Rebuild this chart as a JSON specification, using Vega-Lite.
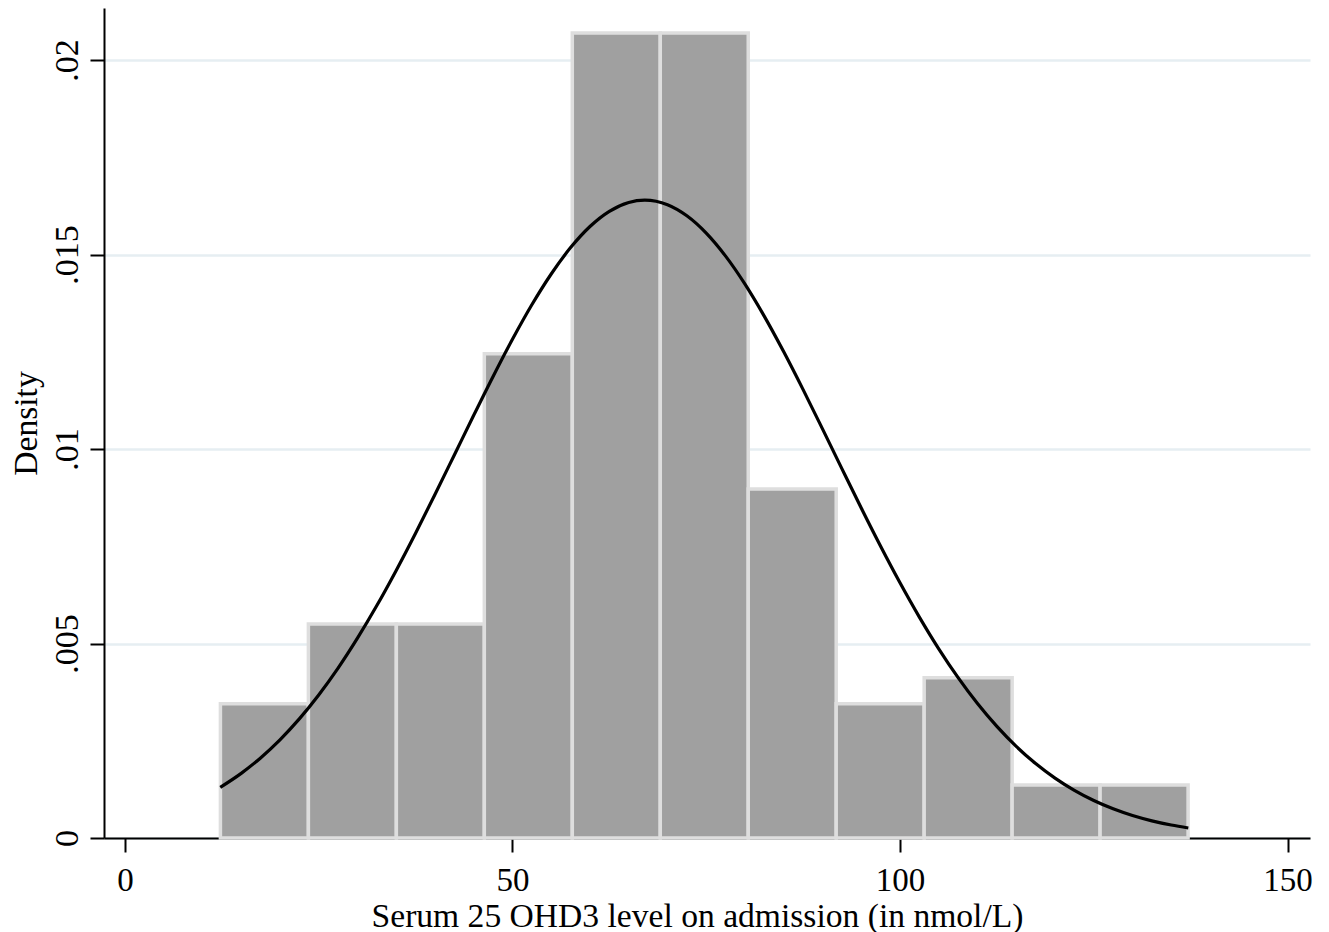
{
  "$schema": "https://vega.github.io/schema/vega-lite/v6.json",
  "width": 1206,
  "height": 830,
  "autosize": {"type": "none"},
  "padding": {"left": 104, "top": 8, "right": 19, "bottom": 94},
  "background": "white",
  "config": {
    "view": {"stroke": null},
    "font": "Liberation Serif",
    "axis": {
      "labelFont": "Liberation Serif",
      "titleFont": "Liberation Serif",
      "labelFontSize": 33,
      "titleFontSize": 33.6,
      "labelColor": "black",
      "titleColor": "black",
      "titleFontWeight": "normal",
      "domainColor": "black",
      "domainWidth": 2,
      "tickColor": "black",
      "tickWidth": 2,
      "tickSize": 14
    }
  },
  "datasets": {
    "bars": [
      {"bin_start": 12.32, "bin_end": 23.67, "density": 0.00345},
      {"bin_start": 23.67, "bin_end": 35.02, "density": 0.0055},
      {"bin_start": 35.02, "bin_end": 46.37, "density": 0.0055},
      {"bin_start": 46.37, "bin_end": 57.72, "density": 0.01245},
      {"bin_start": 57.72, "bin_end": 69.07, "density": 0.0207},
      {"bin_start": 69.07, "bin_end": 80.42, "density": 0.0207},
      {"bin_start": 80.42, "bin_end": 91.77, "density": 0.00897},
      {"bin_start": 91.77, "bin_end": 103.12, "density": 0.00345},
      {"bin_start": 103.12, "bin_end": 114.47, "density": 0.00412},
      {"bin_start": 114.47, "bin_end": 125.82, "density": 0.00136},
      {"bin_start": 125.82, "bin_end": 137.17, "density": 0.00136}
    ],
    "curve": [
      {"x": 12.3, "density": 0.001302},
      {"x": 15, "density": 0.001661},
      {"x": 17.5, "density": 0.002059},
      {"x": 20, "density": 0.002524},
      {"x": 22.5, "density": 0.003062},
      {"x": 25, "density": 0.003678},
      {"x": 27.5, "density": 0.004369},
      {"x": 30, "density": 0.005138},
      {"x": 32.5, "density": 0.005976},
      {"x": 35, "density": 0.00688},
      {"x": 37.5, "density": 0.007836},
      {"x": 40, "density": 0.008831},
      {"x": 42.5, "density": 0.009848},
      {"x": 45, "density": 0.010868},
      {"x": 47.5, "density": 0.011867},
      {"x": 50, "density": 0.012822},
      {"x": 52.5, "density": 0.013709},
      {"x": 55, "density": 0.014501},
      {"x": 57.5, "density": 0.01518},
      {"x": 60, "density": 0.015723},
      {"x": 62.5, "density": 0.016113},
      {"x": 65, "density": 0.016341},
      {"x": 67.07, "density": 0.0164},
      {"x": 70, "density": 0.016282},
      {"x": 72.5, "density": 0.015997},
      {"x": 75, "density": 0.015552},
      {"x": 77.5, "density": 0.01496},
      {"x": 80, "density": 0.01424},
      {"x": 82.5, "density": 0.013412},
      {"x": 85, "density": 0.0125},
      {"x": 87.5, "density": 0.011528},
      {"x": 90, "density": 0.010519},
      {"x": 92.5, "density": 0.009497},
      {"x": 95, "density": 0.008485},
      {"x": 97.5, "density": 0.007501},
      {"x": 100, "density": 0.006562},
      {"x": 102.5, "density": 0.00568},
      {"x": 105, "density": 0.004864},
      {"x": 107.5, "density": 0.004123},
      {"x": 110, "density": 0.003457},
      {"x": 112.5, "density": 0.002869},
      {"x": 115, "density": 0.002355},
      {"x": 117.5, "density": 0.001914},
      {"x": 120, "density": 0.001539},
      {"x": 122.5, "density": 0.001224},
      {"x": 125, "density": 0.000963},
      {"x": 127.5, "density": 0.00075},
      {"x": 130, "density": 0.000578},
      {"x": 132.5, "density": 0.000441},
      {"x": 135, "density": 0.000333},
      {"x": 137.2, "density": 0.000257}
    ]
  },
  "layer": [
    {
      "data": {"name": "bars"},
      "mark": {"type": "rect", "fill": "#a0a0a0", "stroke": "#dedede", "strokeWidth": 3.5},
      "encoding": {
        "x": {
          "field": "bin_start",
          "type": "quantitative",
          "scale": {"domain": [-2.7, 152.9], "nice": false, "zero": false},
          "axis": {
            "values": [0, 50, 100, 150],
            "grid": false,
            "labelPadding": 12,
            "title": "Serum 25 OHD3 level on admission (in nmol/L)",
            "titleBaseline": "alphabetic",
            "titleY": 88,
            "titleX": 593
          }
        },
        "x2": {"field": "bin_end"},
        "y": {
          "field": "density",
          "type": "quantitative",
          "scale": {"domain": [0, 0.02134], "nice": false},
          "axis": {
            "values": [0, 0.005, 0.01, 0.015, 0.02],
            "labelExpr": "datum.value == 0 ? '0' : replace(toString(datum.value), '0.', '.')",
            "labelAngle": -90,
            "labelAlign": "center",
            "labelBaseline": "bottom",
            "labelPadding": 6,
            "labelFontSize": 34,
            "grid": true,
            "gridColor": "#e6eef2",
            "gridWidth": 2.5,
            "title": "Density",
            "titleAngle": -90,
            "titleBaseline": "alphabetic",
            "titleX": -68,
            "titleY": 415
          }
        }
      }
    },
    {
      "data": {"name": "curve"},
      "mark": {"type": "line", "color": "black", "strokeWidth": 3.2, "interpolate": "monotone"},
      "encoding": {
        "x": {"field": "x", "type": "quantitative"},
        "y": {"field": "density", "type": "quantitative"}
      }
    }
  ]
}
